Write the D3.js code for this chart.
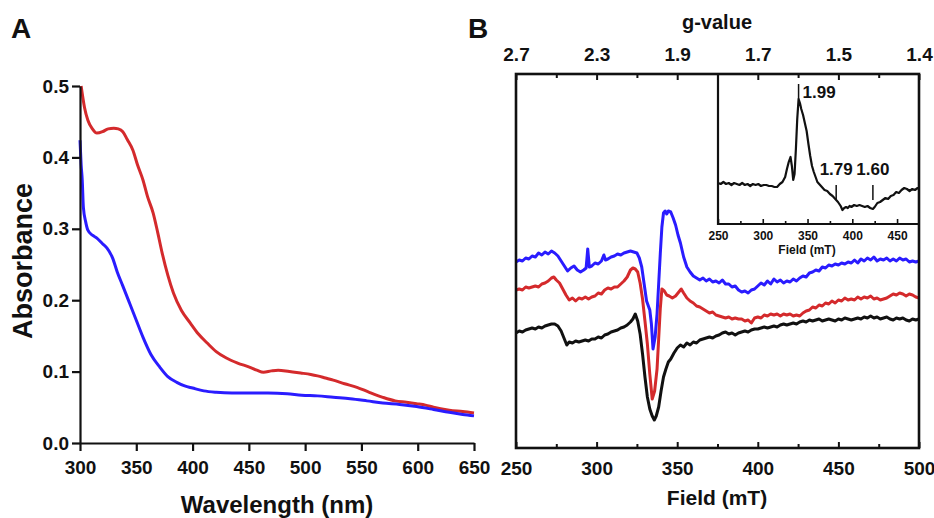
<!DOCTYPE html>
<html>
<head>
<meta charset="utf-8">
<script src="https://cdn.jsdelivr.net/npm/d3@7"></script>
<style>
    body { margin: 0; background: #fff; }
    svg text { font-family: "Liberation Sans", Arial, sans-serif; font-weight: bold; fill: #111; }
    .axis path, .axis line { stroke: #111; }
</style>
</head>
<body>
<div id="chart"></div>
<script>
// ---- Panel A: UV-vis absorbance, [wavelength nm, absorbance]
const redSpectrum = [[301,0.50],[304,0.47],[307,0.452],[311,0.44],[315,0.434],[320,0.436],[325,0.44],[330,0.441],[334,0.44],[338,0.436],[342,0.425],[347,0.41],[351,0.39],[356,0.368],[360,0.345],[365,0.322],[369,0.295],[373,0.266],[378,0.235],[383,0.21],[390,0.186],[398,0.168],[405,0.153],[413,0.14],[421,0.128],[430,0.119],[440,0.112],[451,0.106],[457,0.102],[463,0.099],[470,0.101],[476,0.102],[486,0.1],[496,0.098],[505,0.096],[511,0.094],[518,0.091],[525,0.088],[535,0.083],[546,0.078],[557,0.071],[569,0.064],[580,0.059],[590,0.057],[599,0.055],[607,0.053],[614,0.05],[628,0.046],[640,0.044],[650,0.042]];
const blueSpectrum = [[300,0.424],[301,0.39],[302,0.368],[303,0.33],[305,0.31],[307,0.298],[311,0.291],[315,0.287],[320,0.279],[324,0.273],[329,0.259],[333,0.24],[338,0.22],[344,0.196],[350,0.172],[356,0.148],[363,0.124],[371,0.106],[378,0.093],[386,0.085],[393,0.08],[400,0.077],[410,0.073],[421,0.071],[435,0.07],[451,0.07],[467,0.07],[484,0.069],[497,0.067],[511,0.066],[525,0.064],[540,0.062],[555,0.059],[569,0.056],[584,0.054],[599,0.051],[614,0.047],[628,0.043],[640,0.04],[650,0.038]];
const wavelengthTicks = [300, 350, 400, 450, 500, 550, 600, 650];
const absorbanceTicks = [0.0, 0.1, 0.2, 0.3, 0.4, 0.5];

// ---- Panel B: EPR, [field mT, signal a.u.]
const eprBlue = [[250,187],[252,189],[254,188],[256,191],[258,190],[260,193],[262,192],[264,196],[266,194],[268,197],[270,195],[272,198],[274,196],[276,193],[278,188],[280,183],[282,178],[284,181],[286,183],[288,179],[290,177],[292,179],[293.5,181],[294.5,200],[295.5,182],[297,183],[299,186],[301,185],[303,188],[304.5,194],[305.5,189],[307,190],[309,192],[311,193],[313,195],[315,194],[317,196],[319,197],[321,198],[323,197],[325,196],[326.5,191],[328,182],[329.5,165],[331,148],[333,139],[334,125],[335,100],[336.3,112],[337.5,135],[338.5,165],[339.5,195],[340.5,222],[341.5,236],[342.5,238],[343.5,235],[344.5,238],[346,237],[347.5,231],[349,224],[350.5,214],[352,206],[354,192],[356,182],[358,177],[360,173],[362,171],[364,169],[366,171],[368,168],[370,170],[372,167],[374,168],[376,166],[378,169],[380,165],[382,165],[384,162],[386,163],[388,159],[390,157],[392,158],[394,156],[396,159],[398,160],[400,163],[402,166],[404,164],[406,168],[408,165],[410,170],[412,167],[414,169],[416,166],[418,168],[420,167],[422,170],[424,168],[426,171],[428,173],[430,172],[432,176],[434,177],[436,179],[438,178],[440,182],[442,181],[444,184],[446,183],[448,185],[450,184],[452,186],[454,185],[456,187],[458,186],[460,189],[462,186],[464,190],[466,188],[468,191],[470,189],[472,192],[474,188],[476,190],[478,189],[480,191],[482,188],[484,190],[486,188],[488,191],[490,189],[492,190],[494,187],[496,188],[498,187],[500,188]];
const eprRed = [[250,159],[252,160],[254,159],[256,162],[258,161],[260,162],[262,163],[264,162],[266,165],[268,166],[270,168],[272,171],[273.5,172],[275,169],[277,166],[279,160],[281,154],[283,149],[285,151],[287,148],[289,151],[291,150],[293,152],[295,150],[297,152],[299,153],[301,156],[303,155],[305,159],[307,161],[309,160],[311,162],[313,162],[315,165],[317,168],[319,172],[321,179],[322.5,181],[324,180],[325.5,177],[327,166],[328.5,150],[330,128],[331.5,105],[333,75],[334.5,50],[336,58],[337.5,80],[338.5,110],[339.5,140],[340.5,160],[342,158],[343.5,154],[345,153],[347,151],[349,153],[351,157],[352.5,160],[354,156],[356,151],[358,148],[360,146],[362,143],[364,142],[366,140],[368,138],[370,136],[372,137],[374,134],[376,133],[378,132],[380,131],[382,132],[384,130],[386,131],[388,130],[390,130],[392,128],[394,129],[396,126],[398,131],[400,132],[402,131],[404,134],[406,133],[408,135],[410,134],[412,135],[414,133],[416,135],[418,134],[420,135],[422,133],[424,134],[426,133],[428,136],[430,138],[432,139],[434,142],[436,141],[438,144],[440,143],[442,146],[444,145],[446,148],[448,146],[450,149],[452,148],[454,151],[456,149],[458,150],[460,149],[462,152],[464,150],[466,152],[468,151],[470,153],[472,150],[474,151],[476,149],[478,150],[480,151],[482,153],[484,155],[486,154],[488,156],[490,155],[492,153],[494,155],[496,154],[498,152],[500,151]];
const eprBlack = [[250,116],[252,118],[254,117],[256,119],[258,120],[260,121],[262,120],[264,122],[266,121],[268,123],[270,124],[272,125],[274,125],[276,123],[278,118],[280,110],[281.5,104],[283,107],[285,106],[287,108],[289,107],[291,108],[293,109],[295,108],[297,110],[299,110],[301,112],[303,111],[305,114],[307,115],[309,117],[311,118],[313,119],[315,121],[317,122],[319,124],[321,127],[322.5,130],[324,135],[325.5,128],[327,115],[328.5,95],[330,72],[331.5,52],[333,40],[334.5,33],[335.8,29],[337,33],[338.5,42],[340,58],[341.5,72],[343,80],[344.5,87],[346,90],[348,96],[350,101],[352,104],[354,102],[356,106],[358,104],[360,107],[362,106],[364,109],[366,110],[368,111],[370,112],[372,111],[374,113],[376,114],[378,116],[380,117],[382,115],[384,116],[386,114],[388,116],[390,117],[392,118],[394,117],[396,119],[398,120],[400,120],[402,121],[404,122],[406,121],[408,122],[410,123],[412,122],[414,124],[416,125],[418,124],[420,125],[422,126],[424,125],[426,127],[428,128],[430,127],[432,129],[434,128],[436,129],[438,130],[440,128],[442,129],[444,130],[446,129],[448,128],[450,130],[452,129],[454,131],[456,130],[458,129],[460,130],[462,131],[464,130],[466,132],[468,131],[470,133],[472,131],[474,132],[476,130],[478,131],[480,132],[482,130],[484,129],[486,131],[488,130],[490,131],[492,129],[494,128],[496,130],[498,129],[500,130]];
const fieldTicks = [250, 300, 350, 400, 450, 500];
const gValueLabels = ["2.7", "2.3", "1.9", "1.7", "1.5", "1.4"];

// inset spectrum
const insetSpectrum = [[250,41],[253,40],[256,42],[259,40],[262,41],[265,39],[268,41],[271,40],[274,39],[277,41],[280,39],[283,40],[286,38],[289,40],[292,39],[295,40],[298,38],[301,39],[304,39],[307,38],[310,38],[313,37],[316,37],[319,40],[322,42],[325,47],[327,55],[329,62],[331,67],[332.5,58],[334,44],[335.5,50],[337,75],[338.5,105],[340,125],[341.5,121],[343,115],[345,109],[347,101],[349,93],[351,80],[353,68],[355,58],[357,52],[359,47],[361,42],[363,40],[366,37],[369,34],[372,33],[375,30],[378,28],[381,25],[384,22],[387,18],[389,14],[391,16],[393,17],[395,16],[397,18],[399,17],[402,19],[405,18],[408,19],[411,18],[414,17],[417,18],[420,16],[423,15],[425,17],[428,21],[431,22],[434,24],[437,26],[440,25],[443,28],[446,29],[449,32],[452,31],[455,34],[458,36],[461,35],[464,33],[467,35],[470,34],[473,36],[475,35]];
const insetTicks = [250, 300, 350, 400, 450];
const gMarkers = [
    {field: 340, label: "1.99", from: 125, to: 140},
    {field: 382, label: "1.79", from: 24, to: 39},
    {field: 423, label: "1.60", from: 24, to: 39}
];

const RED = "#d42a2c";
const BLUE = "#2a1cff";
const BLACK = "#111";

const svg = d3.select("#chart").append("svg")
    .attr("width", 934)
    .attr("height", 518);

// panel letters
svg.append("text").attr("x", 11).attr("y", 38).style("font-size", "28px").text("A");
svg.append("text").attr("x", 468).attr("y", 38).style("font-size", "28px").text("B");

// ================= Panel A =================
function drawAbsorbance() {
    let vis = {};
    vis.x = d3.scaleLinear().domain([300, 650]).range([80, 474]);
    vis.y = d3.scaleLinear().domain([0, 0.5]).range([443, 86]);

    vis.g = svg.append("g");

    let line = d3.line().x(d => vis.x(d[0])).y(d => vis.y(d[1])).curve(d3.curveMonotoneX);

    vis.g.append("path").datum(redSpectrum)
        .attr("d", line).attr("fill", "none")
        .attr("stroke", RED).attr("stroke-width", 3);
    vis.g.append("path").datum(blueSpectrum)
        .attr("d", line).attr("fill", "none")
        .attr("stroke", BLUE).attr("stroke-width", 3);

    vis.g.append("g").attr("class", "axis")
        .attr("transform", "translate(0,443)")
        .call(d3.axisBottom(vis.x).tickValues(wavelengthTicks).tickSize(8).tickSizeOuter(0).tickPadding(10));
    vis.g.append("g").attr("class", "axis")
        .attr("transform", "translate(80,0)")
        .call(d3.axisLeft(vis.y).tickValues(absorbanceTicks).tickFormat(d3.format(".1f")).tickSize(8).tickSizeOuter(0).tickPadding(3));

    vis.g.selectAll(".axis path").attr("stroke-width", 2.2);
    vis.g.selectAll(".axis line").attr("stroke-width", 2.2);
    vis.g.selectAll(".axis text").style("font-size", "19px").attr("fill", "#111");

    vis.g.append("text")
        .attr("x", 277).attr("y", 505).attr("dy", "0.35em")
        .attr("text-anchor", "middle")
        .style("font-size", "24px")
        .text("Wavelength (nm)");

    vis.g.append("text")
        .attr("transform", "translate(23,261) rotate(-90)")
        .attr("dy", "0.35em")
        .attr("text-anchor", "middle")
        .style("font-size", "27px")
        .text("Absorbance");
}

// ================= Panel B =================
function drawEpr() {
    let vis = {};
    vis.left = 516; vis.right = 919; vis.top = 74; vis.bottom = 448;
    vis.x = d3.scaleLinear().domain([250, 500]).range([vis.left, vis.right]);
    vis.y = d3.scaleLinear().domain([0, 375]).range([449, 74]);

    vis.g = svg.append("g");

    let line = d3.line().x(d => vis.x(d[0])).y(d => vis.y(d[1]));

    [[eprBlue, BLUE], [eprRed, RED], [eprBlack, BLACK]].forEach(([data, colour]) => {
        vis.g.append("path").datum(data)
            .attr("d", line).attr("fill", "none")
            .attr("stroke", colour).attr("stroke-width", 3)
            .attr("stroke-linejoin", "round");
    });

    // minor ticks every 25 mT
    let minor = d3.range(275, 500, 50);

    vis.g.append("g").attr("class", "axis")
        .attr("transform", `translate(0,${vis.bottom})`)
        .call(d3.axisBottom(vis.x).tickValues(fieldTicks).tickSize(-6).tickSizeOuter(0).tickPadding(13.5))
        .call(g => g.selectAll("text").style("font-size", "19px"));
    vis.g.append("g").attr("class", "axis")
        .attr("transform", `translate(0,${vis.bottom})`)
        .call(d3.axisBottom(vis.x).tickValues(minor).tickSize(-4).tickSizeOuter(0).tickFormat(""));

    vis.g.append("g").attr("class", "axis")
        .attr("transform", `translate(0,${vis.top})`)
        .call(d3.axisTop(vis.x).tickValues(fieldTicks).tickSize(-6).tickSizeOuter(0).tickPadding(13)
            .tickFormat((d, i) => gValueLabels[i]))
        .call(g => g.selectAll("text").style("font-size", "19px"));
    vis.g.append("g").attr("class", "axis")
        .attr("transform", `translate(0,${vis.top})`)
        .call(d3.axisTop(vis.x).tickValues(minor).tickSize(-4).tickSizeOuter(0).tickFormat(""));

    vis.g.selectAll(".axis path").attr("stroke", "none");
    vis.g.selectAll(".axis line").attr("stroke-width", 2);

    // frame
    vis.g.append("rect")
        .attr("x", vis.left).attr("y", vis.top)
        .attr("width", vis.right - vis.left).attr("height", vis.bottom - vis.top)
        .attr("fill", "none").attr("stroke", "#111").attr("stroke-width", 2.6);

    vis.g.append("text")
        .attr("x", 717).attr("y", 22).attr("dy", "0.35em")
        .attr("text-anchor", "middle").style("font-size", "20px")
        .text("g-value");
    vis.g.append("text")
        .attr("x", 717).attr("y", 498).attr("dy", "0.35em")
        .attr("text-anchor", "middle").style("font-size", "21px")
        .text("Field (mT)");

    drawInset(vis);
}

function drawInset(parent) {
    let vis = {};
    vis.left = 718; vis.right = parent.right; vis.top = parent.top; vis.bottom = 224;
    vis.x = d3.scaleLinear().domain([250, 474.5]).range([vis.left, vis.right]);
    vis.y = d3.scaleLinear().domain([0, 150]).range([vis.bottom, vis.top]);

    vis.g = parent.g.append("g");

    vis.g.append("path").datum(insetSpectrum)
        .attr("d", d3.line().x(d => vis.x(d[0])).y(d => vis.y(d[1])))
        .attr("fill", "none").attr("stroke", BLACK).attr("stroke-width", 2.2)
        .attr("stroke-linejoin", "round");

    vis.g.append("g").attr("class", "axis")
        .attr("transform", `translate(0,${vis.bottom})`)
        .call(d3.axisBottom(vis.x).tickValues(insetTicks).tickSize(-5).tickSizeOuter(0).tickPadding(7))
        .call(g => g.selectAll("text").style("font-size", "12px"));
    vis.g.append("g").attr("class", "axis")
        .attr("transform", `translate(0,${vis.bottom})`)
        .call(d3.axisBottom(vis.x).tickValues(d3.range(275, 475, 50)).tickSize(-3).tickSizeOuter(0).tickFormat(""));
    vis.g.selectAll(".axis path").attr("stroke", "none");
    vis.g.selectAll(".axis line").attr("stroke-width", 1.6);

    // left and bottom edges of the inset frame
    vis.g.append("path")
        .attr("d", `M${vis.left},${vis.top}V${vis.bottom}H${vis.right}`)
        .attr("fill", "none").attr("stroke", "#111").attr("stroke-width", 2.2);

    vis.g.append("text")
        .attr("x", 807).attr("y", 250).attr("dy", "0.35em")
        .attr("text-anchor", "middle").style("font-size", "12px")
        .text("Field (mT)");

    // g-value markers
    vis.g.selectAll("line.marker")
        .data(gMarkers).enter()
        .append("line").attr("class", "marker")
        .attr("x1", d => vis.x(d.field)).attr("x2", d => vis.x(d.field))
        .attr("y1", d => vis.y(d.from)).attr("y2", d => vis.y(d.to))
        .attr("stroke", "#111").attr("stroke-width", 1.5);

    vis.g.selectAll("text.marker")
        .data(gMarkers).enter()
        .append("text").attr("class", "marker")
        .attr("x", (d, i) => i === 0 ? vis.x(d.field) + 4 : vis.x(d.field))
        .attr("y", (d, i) => i === 0 ? 92 : 169)
        .attr("dy", "0.35em")
        .attr("text-anchor", (d, i) => i === 0 ? "start" : "middle")
        .style("font-size", "17px")
        .text(d => d.label);
}

drawAbsorbance();
drawEpr();
</script>
</body>
</html>
